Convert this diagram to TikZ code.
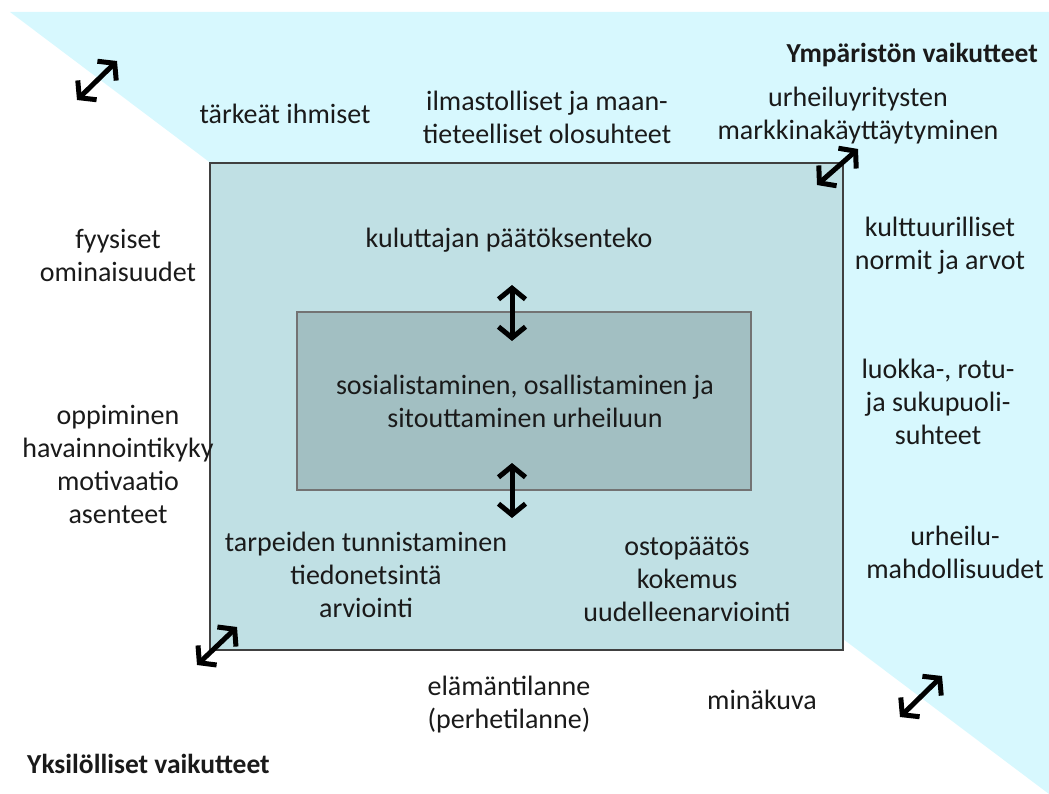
\documentclass[tikz,border=0pt]{standalone}
\usepackage{fontspec}
\setmainfont{Carlito}
\usetikzlibrary{arrows.meta}
\definecolor{envcyan}{HTML}{D7F8FE}
\definecolor{outerfill}{HTML}{C0E0E4}
\definecolor{innerfill}{HTML}{A2BFC2}
\definecolor{txtgray}{HTML}{1A1A1A}
\tikzset{
  lbl/.style={align=center, font=\fontsize{28}{33}\selectfont, text=txtgray, inner sep=0pt},
  hdr/.style={font=\bfseries\fontsize{27.5}{32}\selectfont, text=txtgray, inner sep=0pt},
  dbl/.style={line width=5pt, {Straight Barb[length=11pt,width=27pt]}-{Straight Barb[length=11pt,width=27pt]}},
}
\begin{document}
\begin{tikzpicture}[x=1pt, y=-1pt]
	\useasboundingbox (0,0) rectangle (1049,794);
	% environment triangle
	\fill[envcyan] (10,12) -- (1049,12) -- (1049,794) -- cycle;
	% boxes
	\node[draw=black!75, line width=2pt, fill=outerfill, minimum width=633pt, minimum height=487pt, inner sep=0pt] (outer) at (526.5,406.5) {};
	\node[draw=black!55, line width=1.5pt, fill=innerfill, minimum width=454pt, minimum height=178pt, inner sep=0pt] (inner) at (524,401) {};
	% headers
	\node[hdr, anchor=east] (env) at (1038,55) {Ympäristön vaikutteet};
	\node[hdr, anchor=west] (ind) at (27,764) {Yksilölliset vaikutteet};
	% labels
	\node[lbl] (ihmiset) at (285,114) {tärkeät ihmiset};
	\node[lbl] (ilmasto) at (547,117) {ilmastolliset ja maan-\\tieteelliset olosuhteet};
	\node[lbl] (yritys) at (858,116) {urheiluyritysten\\markkinakäyttäytyminen};
	\node[lbl] (fyysiset) at (118,255) {fyysiset\\ominaisuudet};
	\node[lbl] (paatos) at (509,240) {kuluttajan päätöksenteko};
	\node[lbl] (normit) at (940,246) {kulttuurilliset\\normit ja arvot};
	\node[lbl] (sosial) at (525,401) {sosialistaminen, osallistaminen ja\\sitouttaminen urheiluun};
	\node[lbl] (luokka) at (938,402) {luokka-, rotu-\\ja sukupuoli-\\suhteet};
	\node[lbl] (oppiminen) at (118,464) {oppiminen\\havainnointikyky\\motivaatio\\asenteet};
	\node[lbl] (tarpeet) at (366,575) {tarpeiden tunnistaminen\\tiedonetsintä\\arviointi};
	\node[lbl] (osto) at (687,579) {ostopäätös\\kokemus\\uudelleenarviointi};
	\node[lbl] (mahd) at (955,552) {urheilu-\\mahdollisuudet};
	\node[lbl] (elama) at (509,705) {elämäntilanne\\(perhetilanne)};
	\node[lbl] (mina) at (762,700) {minäkuva};
	% double arrows
	\foreach \n/\xa/\ya/\xb/\yb in {tl/77/100/117/61, tr/817/185/858/149, bl/197/665/237/627, br/900/717/942/676, up/512/285/512/341, dn/512/463/512/518}{
		\coordinate (\n1) at (\xa,\ya);
		\coordinate (\n2) at (\xb,\yb);
		\draw[dbl] (\n1) -- (\n2);
	}
\end{tikzpicture}
\end{document}
